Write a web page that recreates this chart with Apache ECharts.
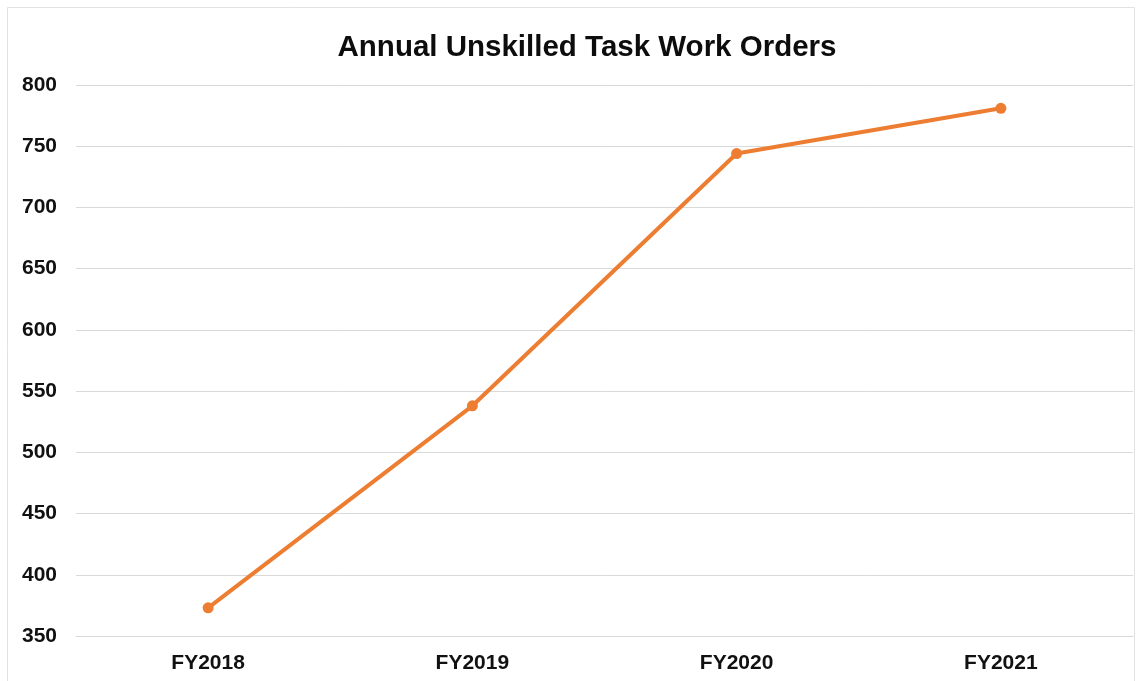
<!DOCTYPE html>
<html>
<head>
<meta charset="utf-8">
<script src="https://cdn.jsdelivr.net/npm/echarts@6/dist/echarts.min.js"></script>
<style>
  html, body { margin: 0; padding: 0; background: #fff; }
  #chart { width: 1145px; height: 681px; }
</style>
</head>
<body>
<div id="chart"></div>
<script>
const titleText = 'Annual Unskilled Task Work Orders';
const categories = ['FY2018', 'FY2019', 'FY2020', 'FY2021'];
const workOrders = [373, 538, 744, 781];
const yMin = 350;
const yMax = 800;
const yStep = 50;

const chart = echarts.init(document.getElementById('chart'), null, { renderer: 'canvas' });
const fontFamily = '"Liberation Sans", Arial, Helvetica, sans-serif';

chart.setOption({
  backgroundColor: '#ffffff',
  animation: false,
  title: {
    text: titleText,
    left: 582,
    top: 28,
    textAlign: 'center',
    textStyle: { fontFamily, fontSize: 29.5, fontWeight: 'bold', color: '#0d0d0d' }
  },
  graphic: [{
    type: 'rect',
    shape: { x: 7.5, y: 7.5, width: 1127, height: 700 },
    style: { fill: 'none', stroke: '#e2e2e2', lineWidth: 1 },
    silent: true,
    z: -1
  }],
  grid: { left: 76, right: 12, top: 85, bottom: 45, containLabel: false },
  xAxis: {
    type: 'category',
    data: categories,
    boundaryGap: true,
    axisLine: { show: true, lineStyle: { color: '#d9d9d9', width: 1 } },
    axisTick: { show: false },
    axisLabel: { fontFamily, fontSize: 21, fontWeight: 'bold', color: '#111111', margin: 17 }
  },
  yAxis: {
    type: 'value',
    min: yMin,
    max: yMax,
    interval: yStep,
    axisLine: { show: false },
    axisTick: { show: false },
    splitLine: { lineStyle: { color: '#d9d9d9', width: 1 } },
    axisLabel: { fontFamily, fontSize: 21, fontWeight: 'bold', color: '#111111', margin: 19 }
  },
  series: [{
    type: 'line',
    data: workOrders,
    symbol: 'circle',
    symbolSize: 11,
    lineStyle: { color: '#ED7D31', width: 4 },
    itemStyle: { color: '#ED7D31' }
  }]
});
</script>
</body>
</html>
